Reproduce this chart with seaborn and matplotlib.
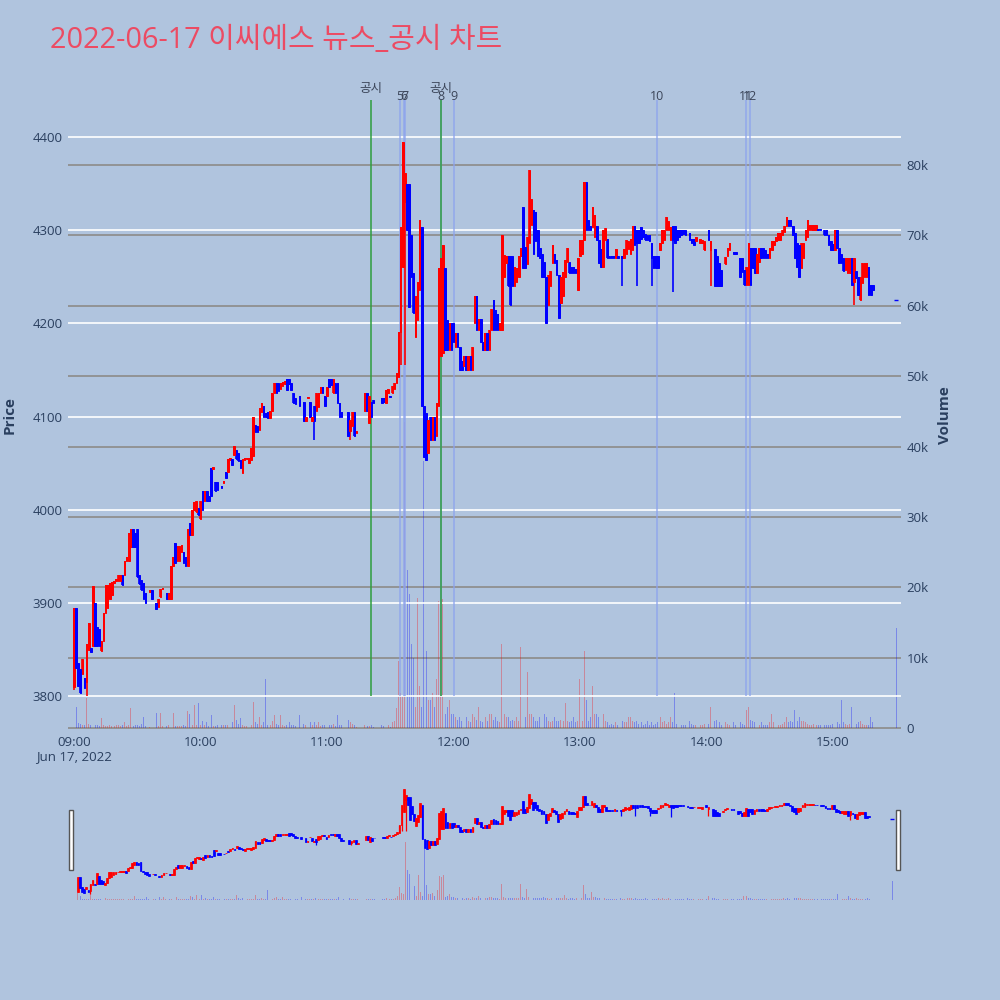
import numpy as np
import pandas as pd
import matplotlib
matplotlib.use("Agg")
import matplotlib.pyplot as plt
import matplotlib.ticker as mticker
from matplotlib.patches import Rectangle
import seaborn as sns

# ── 1분봉 데이터 (09:00 ~ 15:19), None = 체결 없음 ──────────────
opens = [
    3810, 3895, 3836, 3829, 3824, 3820, 3815, 3850, 3852, 3854,
    3900, 3875, 3872, 3849, 3859, 3890, 3895, 3905, 3909, 3922,
    3924, 3924, 3924, 3930, 3930, 3945, 3945, 3960, 3980, 3975,
    3980, 3930, 3925, 3922, 3911, None, 3912, 3914, None, 3900,
    3896, 3907, 3915, None, 3911, 3904, 3904, 3940, 3965, 3945,
    3945, 3955, 3955, 3950, 3940, 3986, 3973, 4000, 3998, 4002,
    3990, 4020, 4010, 4020, 4015, 4045, 4044, 4030, 4030, None,
    4026, 4029, 4041, 4041, 4054, 4055, 4059, 4064, 4061, 4054,
    4040, 4054, 4055, 4050, 4054, 4058, 4091, 4090, 4086, 4105,
    4111, 4104, 4105, 4099, 4106, 4125, 4136, 4136, 4130, 4133,
    4135, 4141, 4141, 4136, 4125, 4120, None, 4122, None, 4116,
    4095, 4120, 4116, 4095, 4111, 4106, 4110, 4125, 4132, 4122,
    4122, 4140, 4140, 4125, 4136, 4136, 4115, 4105, None, None,
    4105, 4085, 4090, 4105, 4083, None, None, None, 4106, 4125,
    4093, 4116, 4118, None, None, None, 4120, 4120, 4115, 4125,
    4122, 4125, 4130, 4136, 4143, 4191, 4261, 4330, 4350, 4350,
    4295, 4254, 4186, 4204, 4236, 4304, 4111, 4104, 4061, 4100,
    4075, 4100, 4079, 4111, 4165, 4168, 4259, 4204, 4172, 4200,
    4200, 4175, 4190, 4175, 4160, 4154, 4165, 4150, 4165, 4150,
    4200, 4230, 4193, 4205, 4180, 4172, 4190, 4172, 4193, 4225,
    4215, 4210, 4193, 4193, 4250, 4265, 4272, 4272, 4272, 4240,
    4245, 4250, 4272, 4325, 4282, 4264, 4286, 4306, 4322, 4320,
    4300, 4281, 4275, 4266, 4250, 4220, 4240, 4265, 4275, 4268,
    4252, 4222, 4230, 4250, 4266, 4266, 4261, 4261, 4258, 4236,
    4272, 4275, 4290, 4352, 4311, 4305, 4304, 4293, 4305, 4290,
    4280, 4261, 4290, 4291, 4272, 4272, 4272, 4270, 4272, None,
    4272, 4270, 4275, 4280, 4275, 4279, 4305, 4300, 4300, 4304,
    4300, 4296, 4295, 4295, 4286, 4272, 4272, 4272, 4279, 4286,
    4290, 4300, 4300, 4290, 4305, 4305, 4300, 4300, 4300, 4300,
    4300, None, 4297, 4291, 4291, 4289, None, 4286, 4286, 4279,
    None, 4300, 4279, None, 4280, 4272, 4265, 4257, None, 4264,
    4272, 4279, None, 4277, 4277, None, 4270, 4270, 4257, 4241,
    4241, 4281, 4281, 4281, 4254, 4266, 4281, 4281, 4279, 4275,
    4270, 4279, 4284, 4289, 4290, 4290, 4295, 4298, 4305, 4311,
    4311, 4305, 4297, 4286, 4284, 4260, 4270, 4290, 4293, 4300,
    4300, 4300, 4300, 4301, 4301, None, 4300, 4300, 4295, 4288,
    4285, 4279, 4300, 4281, 4275, 4270, 4257, 4254, 4254, 4270,
    4245, 4256, 4250, 4225, 4243, 4250, 4250, 4261, 4241, 4241,
]
closes = [
    3895, 3830, 3811, 3804, 3840, 3809, 3856, 3879, 3848, 3918,
    3854, 3854, 3854, 3859, 3890, 3920, 3920, 3922, 3923, 3924,
    3926, 3930, 3930, 3919, 3945, 3950, 3975, 3980, 3960, 3960,
    3928, 3921, 3914, 3904, 3900, None, 3914, 3904, None, 3894,
    3905, 3915, 3916, None, 3904, 3911, 3940, 3950, 3943, 3961,
    3961, 3962, 3943, 3940, 3980, 3973, 4000, 4009, 4010, 3995,
    4010, 4000, 4020, 4010, 4010, 4015, 4046, 4020, 4021, None,
    4024, 4031, 4034, 4055, 4056, 4048, 4069, 4055, 4053, 4045,
    4055, 4056, 4056, 4056, 4066, 4100, 4084, 4084, 4109, 4115,
    4100, 4100, 4099, 4106, 4125, 4136, 4125, 4128, 4136, 4137,
    4138, 4129, 4135, 4129, 4115, 4114, None, 4112, None, 4095,
    4100, 4121, 4100, 4100, 4095, 4125, 4125, 4132, 4125, 4111,
    4132, 4132, 4134, 4140, 4125, 4115, 4100, 4100, None, None,
    4079, 4097, 4105, 4079, 4085, None, None, None, 4125, 4106,
    4122, 4100, 4115, None, None, None, 4115, 4116, 4129, 4130,
    4121, 4133, 4136, 4147, 4191, 4304, 4395, 4361, 4300, 4218,
    4250, 4211, 4229, 4245, 4311, 4111, 4057, 4054, 4097, 4075,
    4100, 4075, 4115, 4259, 4270, 4284, 4172, 4172, 4200, 4172,
    4180, 4190, 4175, 4150, 4150, 4165, 4150, 4165, 4150, 4175,
    4230, 4193, 4205, 4180, 4172, 4190, 4172, 4193, 4216, 4193,
    4193, 4193, 4200, 4295, 4273, 4272, 4240, 4220, 4240, 4261,
    4260, 4272, 4281, 4259, 4259, 4293, 4365, 4334, 4275, 4288,
    4272, 4270, 4250, 4250, 4200, 4252, 4256, 4284, 4265, 4252,
    4206, 4250, 4255, 4268, 4281, 4254, 4254, 4254, 4254, 4270,
    4290, 4290, 4352, 4300, 4300, 4300, 4325, 4316, 4290, 4265,
    4261, 4300, 4302, 4270, 4270, 4270, 4270, 4280, 4270, None,
    4270, 4280, 4290, 4288, 4291, 4305, 4284, 4286, 4286, 4291,
    4293, 4290, 4290, 4288, 4270, 4259, 4259, 4259, 4286, 4300,
    4300, 4314, 4310, 4304, 4290, 4286, 4290, 4293, 4295, 4296,
    4295, None, 4290, 4286, 4284, 4293, None, 4291, 4290, 4289,
    None, 4290, 4289, None, 4240, 4240, 4240, 4240, None, 4271,
    4281, 4286, None, 4275, 4275, None, 4250, 4255, 4241, 4261,
    4286, 4241, 4260, 4254, 4275, 4281, 4270, 4270, 4270, 4270,
    4281, 4289, 4289, 4293, 4297, 4297, 4300, 4305, 4314, 4305,
    4305, 4295, 4270, 4261, 4250, 4286, 4286, 4300, 4311, 4306,
    4306, 4306, 4306, 4300, 4300, None, 4295, 4295, 4284, 4279,
    4279, 4300, 4281, 4265, 4265, 4256, 4270, 4270, 4270, 4241,
    4270, 4249, 4231, 4250, 4265, 4265, 4265, 4231, 4231, 4236,
]
# 꼬리(wick)가 몸통 밖으로 나간 봉만 기록
wick_low = {0: 3807, 6: 3800, 114: 4075, 131: 4075, 155: 4155, 157: 4155,
            260: 4240, 267: 4240, 274: 4240, 284: 4234, 302: 4240, 370: 4220}

# 거래량 (천주)
volumes_k = [
    5.2, 3.0, 0.7, 0.6, 0.5, 0.4, 4.2, 0.6, 0.5, 0.7,
    0.5, 0.4, 0.3, 1.4, 0.5, 0.3, 0.3, 0.4, 0.3, 0.3,
    0.4, 0.5, 0.3, 0.4, 0.8, 0.3, 0.4, 2.8, 0.3, 0.4,
    0.4, 0.3, 0.6, 1.6, 0.3, 0, 0.2, 0.3, 0, 2.1,
    0.3, 2.1, 0.3, 0, 0.3, 0.5, 0.5, 2.2, 0.3, 0.3,
    0.3, 0.3, 0.5, 0.3, 2.4, 2.0, 0.5, 3.3, 0.5, 3.5,
    0.5, 1.0, 0.4, 0.8, 0.3, 1.9, 0.3, 0.3, 0.5, 0,
    0.4, 0.4, 0.5, 0.4, 0.6, 0.8, 3.3, 1.2, 0.6, 1.4,
    0.4, 0.3, 0.3, 0.3, 0.4, 3.7, 0.8, 0.6, 1.5, 0.5,
    0.8, 7.0, 0.5, 0.4, 1.0, 1.8, 0.6, 0.4, 1.9, 0.5,
    0.3, 0.4, 0.8, 0.5, 0.4, 0.3, 0, 1.8, 0, 0.6,
    0.5, 0.3, 0.8, 0.5, 0.9, 0.4, 0.8, 0.3, 0.5, 0.4,
    0.5, 0.4, 0.5, 0.6, 0.3, 1.8, 0.5, 0.5, 0, 0,
    1.1, 0.8, 0.6, 0.5, 0.2, 0, 0, 0, 0.4, 0.3,
    0.3, 0.4, 0.2, 0, 0, 0, 0.4, 0.3, 0.9, 0.5,
    0.2, 0.8, 1.0, 2.8, 9.5, 5.0, 4.5, 43.5, 22.5, 19.0,
    12, 10, 3, 18.5, 6, 3, 38, 11, 4, 4,
    5, 3, 7, 18, 17, 18.3, 2, 3, 4, 2,
    2, 1.5, 1.2, 1.5, 1, 0.8, 1.5, 1, 0.8, 2,
    1.5, 1.2, 3, 1, 0.8, 1.5, 1, 2, 2, 1.2,
    1.5, 1, 0.8, 12, 2, 1.5, 1.5, 1, 1.2, 1,
    1.5, 1, 11.5, 2, 1.5, 8, 2, 2, 1.5, 1,
    1, 1.5, 1.2, 2, 1.5, 1, 0.8, 1, 1.5, 1,
    1, 1.2, 1, 3.5, 1, 0.8, 1, 1.5, 0.8, 1,
    7, 1, 11, 4, 1, 1.5, 6, 2, 2, 1.5,
    1, 2, 1, 0.8, 0.5, 0.6, 0.5, 0.8, 0.5, 0,
    1, 0.8, 0.8, 1.5, 1.5, 1, 0.8, 1, 0.6, 0.8,
    0.5, 0.6, 1, 0.5, 0.8, 0.5, 0.6, 0.8, 1.5, 0.8,
    1, 0.6, 0.8, 1.5, 0.8, 5, 0.6, 0.5, 0.5, 0.4,
    0.5, 0, 1, 0.6, 0.5, 0.4, 0, 0.5, 0.4, 0.6,
    0, 0.6, 3, 0, 1, 1.2, 0.8, 0.5, 0, 0.8,
    0.6, 0.5, 0, 0.8, 0.5, 0, 0.8, 0.6, 0.5, 2.5,
    3, 1.2, 1, 0.8, 0.6, 0.5, 0.8, 0.5, 0.4, 0.5,
    0.8, 2, 0.8, 0.6, 0.5, 0.5, 0.6, 0.8, 1.5, 0.8,
    1, 0.8, 2.5, 1, 1.5, 1, 1, 0.8, 0.6, 0.5,
    0.5, 0.6, 0.4, 0.4, 0.4, 0, 0.5, 0.4, 0.5, 0.5,
    0.6, 0.5, 0.8, 0.6, 4, 0.8, 0.6, 0.5, 0.6, 3,
    1, 0.6, 0.8, 1, 0.6, 0.5, 0.4, 0.5, 1.5, 0.8,
]
# 15:30 종가 단일가
close_auction_time = "2022-06-17 15:30"
close_auction_price = 4225
close_auction_volume_k = 14.2

# 공시 / 뉴스 시각
disclosure_times = ["2022-06-17 11:20:54", "2022-06-17 11:54:05"]
news_times = ["2022-06-17 11:34:39", "2022-06-17 11:36:40", "2022-06-17 11:36:55",
              "2022-06-17 11:54:05", "2022-06-17 12:00:02", "2022-06-17 13:36:34",
              "2022-06-17 14:18:47", "2022-06-17 14:20:41"]
news_labels = ["5", "6", "7", "8", "9", "10", "11", "12"]

TITLE = "2022-06-17 이씨에스 뉴스_공시 차트"
BG = "#B0C4DE"
PLOT_BG = "#E5ECF6"
TXT = "#2a3f5f"
UP, DOWN = "#FF0000", "#0000FF"

# ── 데이터프레임 ─────────────────────────────────────────────
df = pd.DataFrame({
    "time": pd.date_range("2022-06-17 09:00", periods=len(opens), freq="min"),
    "open": pd.array(opens, dtype="Float64"),
    "close": pd.array(closes, dtype="Float64"),
    "volume": np.array(volumes_k) * 1000,
})
df["low"] = df[["open", "close"]].min(axis=1)
df["high"] = df[["open", "close"]].max(axis=1)
for i, v in wick_low.items():
    df.loc[i, "low"] = v
df["up"] = df["close"] >= df["open"]
cand = df.dropna(subset=["open"]).copy()
cand = cand.astype({"open": float, "close": float, "low": float, "high": float})
cand["body_lo"] = cand[["open", "close"]].min(axis=1)
cand["body_h"] = cand[["open", "close"]].max(axis=1) - cand["body_lo"]

auction = pd.DataFrame({"time": [pd.Timestamp(close_auction_time)],
                        "price": [close_auction_price],
                        "volume": [close_auction_volume_k * 1000]})

MIN = 1 / 1440  # 1분 (days)
T0 = pd.Timestamp("2022-06-17 09:00")
XLIM = (T0 - pd.Timedelta(minutes=2.85), T0 + pd.Timedelta(minutes=392.3))
PRICE_LIM = (3764, 4444)
VOL_LIM = (-280, 89800)

sns.set_theme(style="white")
plt.rcParams["font.family"] = ["Open Sans", "Noto Sans CJK KR", "DejaVu Sans"]


def draw_chart(ax_p, ax_v, body_w, lw, vol_w):
    cols = np.where(cand["up"], UP, DOWN)
    ax_p.vlines(cand["time"], cand["low"], cand["high"], colors=cols, lw=lw, zorder=3)
    ax_p.bar(cand["time"], cand["body_h"], bottom=cand["body_lo"],
             width=body_w * MIN, color=cols, edgecolor=cols, linewidth=lw * 0.6, zorder=4)
    vcols = np.where(df["up"].fillna(True), UP, DOWN)
    ax_v.bar(df["time"], df["volume"], width=vol_w * MIN, color=vcols, alpha=0.3,
             linewidth=0, zorder=2)
    ax_v.bar(auction["time"], auction["volume"], width=vol_w * MIN, color=DOWN,
             alpha=0.3, linewidth=0, zorder=2)
    sns.scatterplot(data=auction, x="time", y="price", ax=ax_p, marker="_", s=8,
                    color=DOWN, linewidth=1.0, legend=False, zorder=5)
    for a in (ax_p, ax_v):
        a.set_xlim(*XLIM)
        for s in a.spines.values():
            s.set_visible(False)
        a.set_xlabel("")
        a.set_ylabel("")
    ax_p.set_ylim(*PRICE_LIM)
    ax_v.set_ylim(*VOL_LIM)
    ax_p.set_zorder(2)
    ax_v.set_zorder(1)
    ax_p.patch.set_visible(False)
    ax_v.set_facecolor(PLOT_BG)


fig = plt.figure(figsize=(10, 10), dpi=100, facecolor=BG)

# ── 메인 차트 ───────────────────────────────────────────────
ax = fig.add_axes([0.068, 0.27, 0.833, 0.634])
axv = ax.twinx()
draw_chart(ax, axv, body_w=0.7, lw=1.2, vol_w=0.45)

ax.set_yticks(range(3800, 4401, 100))
ax.grid(axis="y", color="white", lw=1.2)
ax.grid(axis="x", visible=False)
axv.set_yticks(range(0, 80001, 10000))
axv.yaxis.set_major_formatter(mticker.FuncFormatter(lambda v, _: "0" if v == 0 else f"{v/1000:.0f}k"))
axv.grid(axis="y", color="#8f8f8f", lw=1.3)
axv.grid(axis="x", visible=False)

hours = pd.date_range("2022-06-17 09:00", "2022-06-17 15:00", freq="h")
ax.set_xticks(hours)
ax.set_xticklabels(["09:00\nJun 17, 2022"] + [h.strftime("%H:%M") for h in hours[1:]],
                   linespacing=1.2)
ax.tick_params(axis="both", length=0, labelsize=9.5, labelcolor=TXT, pad=4)
axv.tick_params(axis="y", length=0, labelsize=9.5, labelcolor=TXT, pad=4)
axv.tick_params(axis="x", bottom=False, labelbottom=False)
plt.setp(ax.get_xticklabels(), va="top")
ax.get_xticklabels()[0].set_multialignment("center")

# 공시 / 뉴스 세로선
ax.vlines(pd.to_datetime(news_times), 3800, 4440, colors="#8CA3EE", lw=1.2, alpha=0.8, zorder=1)
ax.vlines(pd.to_datetime(disclosure_times), 3800, 4440, colors="#2E9E3E", lw=1.1, zorder=1)
for t, lab in zip(pd.to_datetime(news_times), news_labels):
    ax.text(t, 4443, lab, ha="center", va="center", fontsize=9, color="#3b4559", clip_on=False)
for t in pd.to_datetime(disclosure_times):
    ax.text(t, 4452, "공시", ha="center", va="center", fontsize=9, color="#3b4559",
            clip_on=False, family=["Noto Sans CJK KR", "DejaVu Sans"])

fig.text(0.05, 0.96, TITLE, fontsize=20.8, color="#EC4B63", va="center", ha="left")
fig.text(0.01, 0.585, "Price", rotation=90, fontsize=11, fontweight="bold", color=TXT,
         va="center", ha="center")
fig.text(0.945, 0.585, "Volume", rotation=90, fontsize=11, fontweight="bold", color=TXT,
         va="center", ha="center")

# ── 레인지 슬라이더 ─────────────────────────────────────────
rs = fig.add_axes([0.072, 0.10, 0.825, 0.12])
rsv = rs.twinx()
draw_chart(rs, rsv, body_w=0.85, lw=0.9, vol_w=0.45)
for a in (rs, rsv):
    a.set_xticks([])
    a.set_yticks([])
    a.grid(False)
for x0 in (0.0685, 0.8955):
    fig.patches.append(Rectangle((x0, 0.13), 0.0045, 0.06, transform=fig.transFigure,
                                 facecolor="white", edgecolor="#555555", lw=1.0))

fig.savefig("out.png", dpi=100, facecolor=BG)
